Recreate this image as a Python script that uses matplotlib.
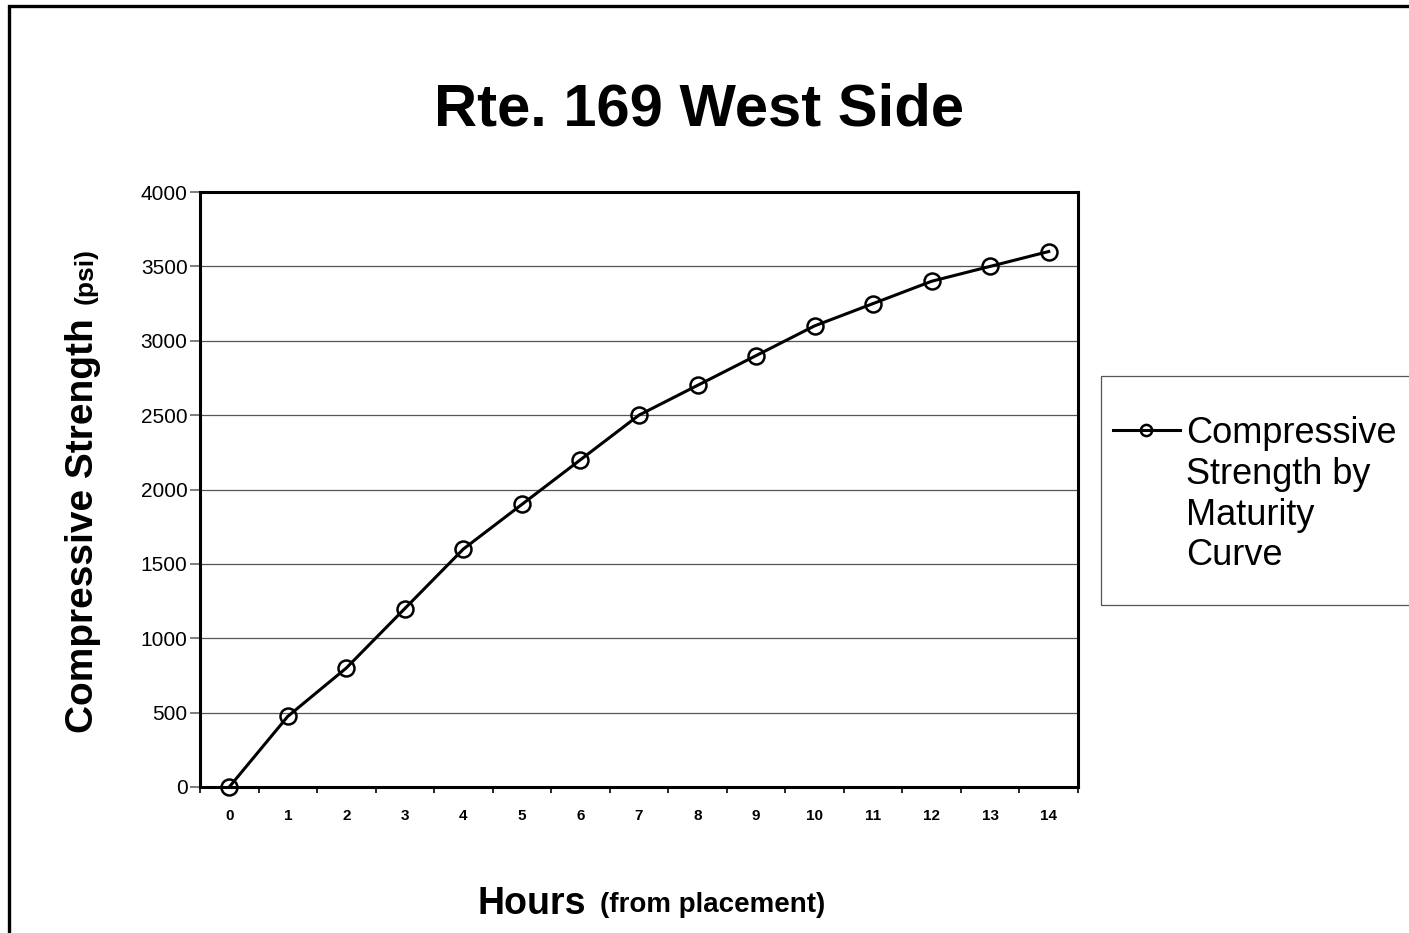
import matplotlib
matplotlib.use("Agg")
import matplotlib.pyplot as plt
from matplotlib.lines import Line2D
from matplotlib.patches import Rectangle
import numpy as np

plt.rcParams["font.family"] = ["Liberation Sans", "DejaVu Sans"]

# --- data ---
hours = [0, 1, 2, 3, 4, 5, 6, 7, 8, 9, 10, 11, 12, 13, 14]
strength = [0, 475, 800, 1200, 1600, 1900, 2200, 2500, 2700, 2900, 3100, 3250, 3400, 3500, 3600]
y_ticks = [0, 500, 1000, 1500, 2000, 2500, 3000, 3500, 4000]
title = "Rte. 169 West Side"
legend_lines = ["Compressive", "Strength by", "Maturity", "Curve"]

W, H = 1409, 933
fig = plt.figure(figsize=(W / 100, H / 100), dpi=100)

def fx(px):
    return px / W

def fy(py):
    return 1 - py / H

ax = fig.add_axes([fx(200), fy(787), fx(1078) - fx(200), fy(192) - fy(787)])

x = np.arange(len(hours))
line, = ax.plot(
    x, strength,
    color="black", linewidth=2.2,
    marker="o", markersize=11.5, markerfacecolor="none",
    markeredgecolor="black", markeredgewidth=1.8,
    zorder=5, clip_on=False,
)

ax.set_xlim(-0.5, len(hours) - 0.5)
ax.set_ylim(0, 4000)
ax.set_yticks(y_ticks)
ax.set_yticklabels([str(v) for v in y_ticks], fontsize=15)
ax.yaxis.grid(True, color="#555555", linewidth=0.9)
ax.set_axisbelow(True)

# category axis: labels centred, ticks on bin edges
ax.set_xticks(x)
ax.set_xticklabels([str(h) for h in hours], fontsize=11, fontweight="bold")
ax.set_xticks(np.arange(-0.5, len(hours), 1.0), minor=True)
ax.tick_params(axis="x", which="major", length=0, pad=16)
ax.tick_params(axis="x", which="minor", length=4, width=1.2, color="black", direction="out")
ax.tick_params(axis="y", length=7, width=1.2, color="#666666", direction="out", pad=2)

for s in ax.spines.values():
    s.set_linewidth(2.2)
    s.set_color("black")

# --- titles ---
fig.text(fx(699), fy(126), title, fontsize=43, fontweight="bold",
         ha="center", va="baseline")

fig.text(fx(93), fy(733), "Compressive Strength", fontsize=28, fontweight="bold",
         rotation=90, rotation_mode="anchor", ha="left", va="baseline")
fig.text(fx(93), fy(248), "(psi)", fontsize=19, fontweight="bold",
         rotation=90, rotation_mode="anchor", ha="right", va="baseline")

fig.text(fx(477), fy(914), "Hours", fontsize=27, fontweight="bold",
         ha="left", va="baseline")
fig.text(fx(600), fy(912), "(from placement)", fontsize=20, fontweight="bold",
         ha="left", va="baseline")

# --- legend ---
blank = Line2D([], [], color="none")
fig.legend(
    [line, blank, blank, blank], legend_lines,
    loc="upper left", bbox_to_anchor=(fx(1113), fy(416)),
    frameon=False, fontsize=26, borderpad=0, borderaxespad=0,
    handlelength=1.85, handletextpad=0.17, labelspacing=0.16,
    markerscale=0.7,
)
fig.patches.append(Rectangle((fx(1101), fy(605)), fx(1440) - fx(1101), fy(376) - fy(605),
                             transform=fig.transFigure, fill=False,
                             edgecolor="#555555", linewidth=0.9))

# outer chart border (continues past the right and bottom edges)
fig.patches.append(Rectangle((fx(9), fy(960)), fx(1440) - fx(9), fy(6) - fy(960),
                             transform=fig.transFigure, fill=False,
                             edgecolor="black", linewidth=2.4))

fig.savefig("out.png", dpi=100)
